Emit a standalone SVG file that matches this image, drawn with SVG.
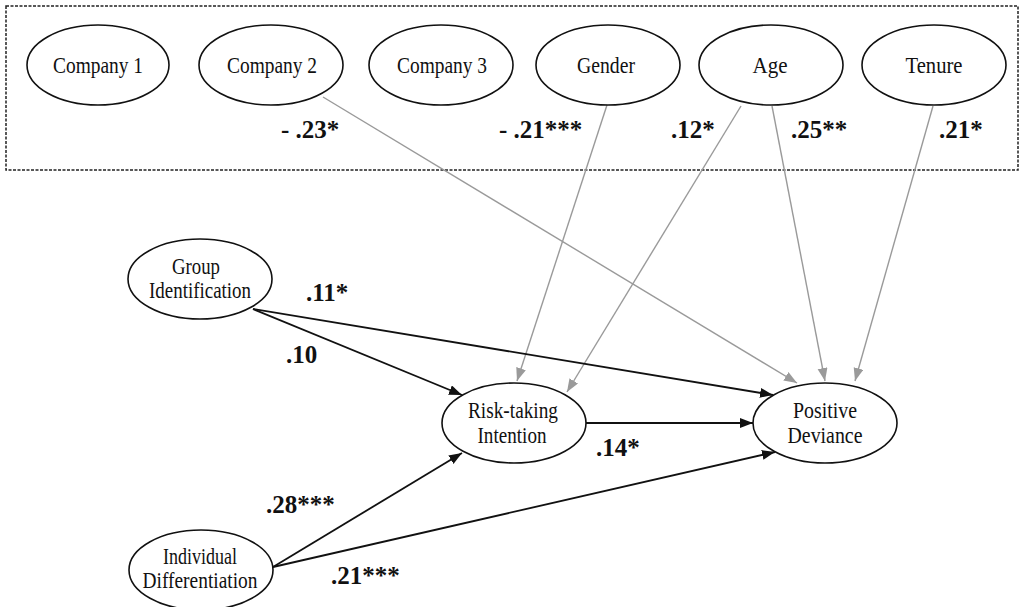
<svg xmlns="http://www.w3.org/2000/svg" width="1021" height="607" viewBox="0 0 1021 607">
<style>
.node ellipse{fill:#fff;stroke:#111;stroke-width:1.6}
.node text{font-family:"Liberation Serif","Times New Roman",serif;font-size:23px;fill:#111;text-anchor:middle}
.lbl{font-family:"Liberation Serif","Times New Roman",serif;font-size:25px;font-weight:bold;fill:#111}
.blk{stroke:#111;stroke-width:1.8;fill:none;marker-end:url(#ab)}
.gry{stroke:#9a9a9a;stroke-width:1.4;fill:none;marker-end:url(#ag)}
</style>
<defs>
<marker id="ab" markerUnits="userSpaceOnUse" markerWidth="14" markerHeight="12" refX="13" refY="5" orient="auto"><path d="M0,0 L13,5 L0,10 z" fill="#111"/></marker>
<marker id="ag" markerUnits="userSpaceOnUse" markerWidth="14" markerHeight="12" refX="13" refY="5" orient="auto"><path d="M0,0 L13,5 L0,10 z" fill="#9a9a9a"/></marker>
</defs>
<rect x="6" y="6" width="1012" height="164" fill="none" stroke="#222" stroke-width="1.5" stroke-dasharray="3 1.5"/>
<g id="connectors">
<line class="gry" x1="323" y1="97" x2="797" y2="383"/>
<line class="gry" x1="607" y1="105" x2="517" y2="381"/>
<line class="gry" x1="741" y1="106" x2="567" y2="392"/>
<line class="gry" x1="772" y1="106" x2="825" y2="381"/>
<line class="gry" x1="933" y1="106" x2="855" y2="381"/>
<line class="blk" x1="253" y1="309" x2="462" y2="395"/>
<line class="blk" x1="253" y1="309" x2="773" y2="395"/>
<line class="blk" x1="273" y1="567" x2="462" y2="453"/>
<line class="blk" x1="273" y1="567" x2="775" y2="452"/>
<line class="blk" x1="586" y1="423" x2="753" y2="423"/>
</g>
<g id="company1" class="node"><ellipse cx="98" cy="65" rx="71" ry="40"/><text x="98" y="73" textLength="90" lengthAdjust="spacingAndGlyphs">Company 1</text></g>
<g id="company2" class="node"><ellipse cx="271" cy="65" rx="72" ry="40"/><text x="272" y="73" textLength="90" lengthAdjust="spacingAndGlyphs">Company 2</text></g>
<g id="company3" class="node"><ellipse cx="441" cy="65" rx="72" ry="40"/><text x="442" y="73" textLength="90" lengthAdjust="spacingAndGlyphs">Company 3</text></g>
<g id="gender" class="node"><ellipse cx="608" cy="65" rx="72" ry="40"/><text x="606" y="73" textLength="58" lengthAdjust="spacingAndGlyphs">Gender</text></g>
<g id="age" class="node"><ellipse cx="771" cy="65" rx="72" ry="40"/><text x="770" y="73" textLength="35" lengthAdjust="spacingAndGlyphs">Age</text></g>
<g id="tenure" class="node"><ellipse cx="934" cy="65" rx="72" ry="40"/><text x="934" y="73" textLength="57" lengthAdjust="spacingAndGlyphs">Tenure</text></g>
<g id="group-identification" class="node"><ellipse cx="200" cy="279" rx="72" ry="40"/><text x="196" y="274" textLength="48" lengthAdjust="spacingAndGlyphs">Group</text><text x="200" y="298" textLength="102" lengthAdjust="spacingAndGlyphs">Identification</text></g>
<g id="risk-taking-intention" class="node"><ellipse cx="514" cy="423" rx="72" ry="40"/><text x="513" y="418" textLength="90" lengthAdjust="spacingAndGlyphs">Risk-taking</text><text x="512" y="443" textLength="69" lengthAdjust="spacingAndGlyphs">Intention</text></g>
<g id="positive-deviance" class="node"><ellipse cx="825" cy="423" rx="72" ry="40"/><text x="825" y="418" textLength="64" lengthAdjust="spacingAndGlyphs">Positive</text><text x="825" y="443" textLength="75" lengthAdjust="spacingAndGlyphs">Deviance</text></g>
<g id="individual-differentiation" class="node"><ellipse cx="201" cy="570" rx="72" ry="40"/><text x="200" y="564" textLength="74" lengthAdjust="spacingAndGlyphs">Individual</text><text x="200" y="588" textLength="115" lengthAdjust="spacingAndGlyphs">Differentiation</text></g>
<g id="labels">
<text class="lbl" x="281" y="138">- .23*</text>
<text class="lbl" x="499" y="138">- .21***</text>
<text class="lbl" x="671" y="138">.12*</text>
<text class="lbl" x="791" y="138">.25**</text>
<text class="lbl" x="939" y="138">.21*</text>
<text class="lbl" x="306" y="301">.11*</text>
<text class="lbl" x="286" y="363">.10</text>
<text class="lbl" x="596" y="456">.14*</text>
<text class="lbl" x="266" y="513">.28***</text>
<text class="lbl" x="331" y="584">.21***</text>
</g>
</svg>
